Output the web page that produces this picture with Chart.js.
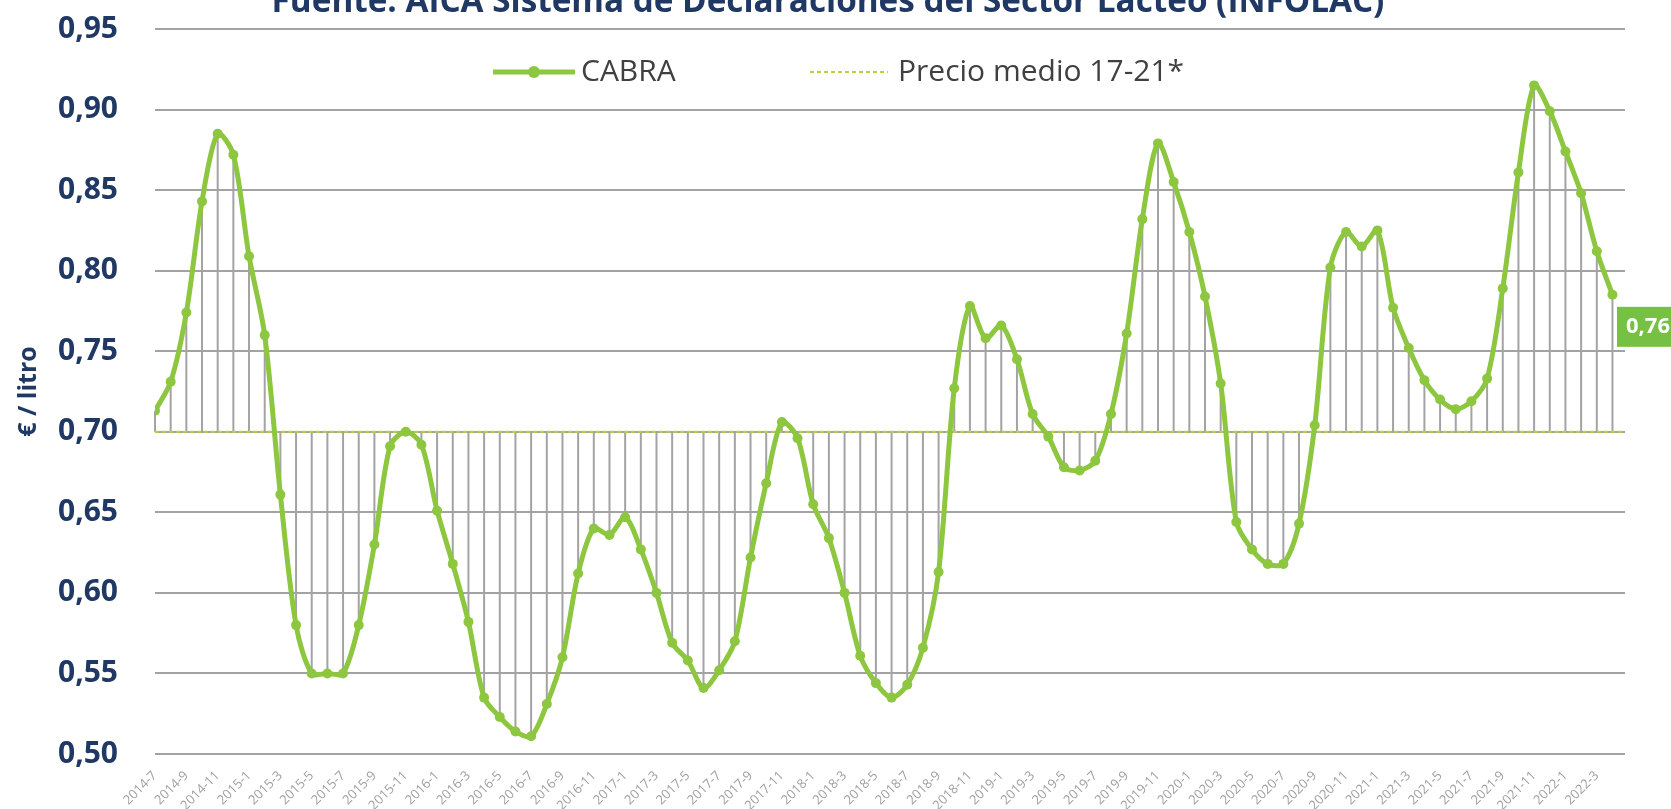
<!DOCTYPE html>
<html>
<head>
<meta charset="utf-8">
<script src="https://cdn.jsdelivr.net/npm/chart.js@4/dist/chart.umd.min.js"></script>
<style>
  body { margin: 0; background: #fff; }
  canvas { display: block; }
</style>
</head>
<body>
<canvas id="chart" width="1671" height="809"></canvas>
<script>
// precio leche de cabra, €/litro, mensual desde 2014-7
const months = [
    '2014-7', '2014-8', '2014-9', '2014-10', '2014-11', '2014-12',
    '2015-1', '2015-2', '2015-3', '2015-4', '2015-5', '2015-6', '2015-7', '2015-8', '2015-9', '2015-10', '2015-11', '2015-12',
    '2016-1', '2016-2', '2016-3', '2016-4', '2016-5', '2016-6', '2016-7', '2016-8', '2016-9', '2016-10', '2016-11', '2016-12',
    '2017-1', '2017-2', '2017-3', '2017-4', '2017-5', '2017-6', '2017-7', '2017-8', '2017-9', '2017-10', '2017-11', '2017-12',
    '2018-1', '2018-2', '2018-3', '2018-4', '2018-5', '2018-6', '2018-7', '2018-8', '2018-9', '2018-10', '2018-11', '2018-12',
    '2019-1', '2019-2', '2019-3', '2019-4', '2019-5', '2019-6', '2019-7', '2019-8', '2019-9', '2019-10', '2019-11', '2019-12',
    '2020-1', '2020-2', '2020-3', '2020-4', '2020-5', '2020-6', '2020-7', '2020-8', '2020-9', '2020-10', '2020-11', '2020-12',
    '2021-1', '2021-2', '2021-3', '2021-4', '2021-5', '2021-6', '2021-7', '2021-8', '2021-9', '2021-10', '2021-11', '2021-12',
    '2022-1', '2022-2', '2022-3', '2022-4'
]

const cabra = [
    0.713, 0.731, 0.774, 0.843, 0.885, 0.872,
    0.809, 0.760, 0.661, 0.580, 0.550, 0.550, 0.550, 0.580, 0.630, 0.691, 0.700, 0.692,
    0.651, 0.618, 0.582, 0.535, 0.523, 0.514, 0.511, 0.531, 0.560, 0.612, 0.640, 0.636,
    0.647, 0.627, 0.600, 0.569, 0.558, 0.541, 0.552, 0.570, 0.622, 0.668, 0.706, 0.696,
    0.655, 0.634, 0.600, 0.561, 0.544, 0.535, 0.543, 0.566, 0.613, 0.727, 0.778, 0.758,
    0.766, 0.745, 0.711, 0.697, 0.678, 0.676, 0.682, 0.711, 0.761, 0.832, 0.879, 0.855,
    0.824, 0.784, 0.730, 0.644, 0.627, 0.618, 0.618, 0.643, 0.704, 0.802, 0.824, 0.815,
    0.825, 0.777, 0.752, 0.732, 0.720, 0.714, 0.719, 0.733, 0.789, 0.861, 0.915, 0.899,
    0.874, 0.848, 0.812, 0.785
]

const precioMedio = 0.70
const lastLabel = '0,76'
const xMax = 93.8

const green = '#8dc63f'
const navy = '#1f3864'

// lineas verticales desde cada punto hasta el precio medio
const dropLines = {
    id: 'dropLines',
    beforeDatasetsDraw(chart) {
        const ctx = chart.ctx
        const y = chart.scales.y
        const meta = chart.getDatasetMeta(0)
        const base = y.getPixelForValue(precioMedio)
        ctx.save()
        ctx.strokeStyle = '#a3a3a3'
        ctx.lineWidth = 2
        meta.data.forEach(p => {
            ctx.beginPath()
            ctx.moveTo(p.x, p.y)
            ctx.lineTo(p.x, base)
            ctx.stroke()
        })
        ctx.restore()
    }
}

const extras = {
    id: 'extras',
    afterDraw(chart) {
        const ctx = chart.ctx
        ctx.save()

        // titulo (cortado arriba)
        const title = 'Fuente: AICA Sistema de Declaraciones del Sector Lácteo (INFOLAC)'
        ctx.font = 'bold 28px "Open Sans"'
        const size = 28 * 1113 / ctx.measureText(title).width
        ctx.font = 'bold ' + size + 'px "Open Sans"'
        ctx.fillStyle = navy
        ctx.textAlign = 'center'
        ctx.textBaseline = 'alphabetic'
        ctx.fillText(title, 828, 12)

        // leyenda
        ctx.textAlign = 'left'
        ctx.textBaseline = 'middle'
        ctx.font = '30px "Open Sans"'
        ctx.fillStyle = '#404040'
        ctx.strokeStyle = green
        ctx.lineWidth = 5
        ctx.beginPath()
        ctx.moveTo(493, 72)
        ctx.lineTo(575, 72)
        ctx.stroke()
        ctx.fillStyle = green
        ctx.beginPath()
        ctx.arc(534, 72, 6, 0, Math.PI * 2)
        ctx.fill()
        ctx.fillStyle = '#404040'
        ctx.fillText('CABRA', 581, 72)

        ctx.strokeStyle = '#bccf3c'
        ctx.lineWidth = 2
        ctx.setLineDash([4, 3])
        ctx.beginPath()
        ctx.moveTo(810, 72)
        ctx.lineTo(888, 72)
        ctx.stroke()
        ctx.setLineDash([])
        ctx.fillText('Precio medio 17-21*', 898, 72)

        // etiqueta del ultimo valor
        const meta = chart.getDatasetMeta(0)
        const last = meta.data[meta.data.length - 1]
        const bx = chart.chartArea.right - 8
        const by = last.y + 12
        ctx.fillStyle = '#76c043'
        ctx.fillRect(bx, by, chart.width - bx, 40)
        ctx.fillStyle = '#ffffff'
        ctx.font = 'bold 22px "Open Sans"'
        ctx.fillText(lastLabel, bx + 9, by + 20)

        ctx.restore()
    }
}

const ctx = document.getElementById('chart').getContext('2d')

const chart = new Chart(ctx, {
    type: 'line',
    data: {
        datasets: [
            {
                label: 'CABRA',
                data: cabra.map((v, i) => ({ x: i, y: v })),
                borderColor: green,
                backgroundColor: green,
                borderWidth: 5,
                pointRadius: 5,
                pointBorderWidth: 0,
                pointBackgroundColor: green,
                tension: 0.3,
                fill: false
            },
            {
                label: 'Precio medio 17-21*',
                data: [{ x: 0, y: precioMedio }, { x: xMax, y: precioMedio }],
                borderColor: '#bccf3c',
                borderWidth: 2,
                borderDash: [4, 3],
                pointRadius: 0,
                fill: false
            }
        ]
    },
    options: {
        responsive: false,
        animation: false,
        layout: {
            padding: { top: 29, right: 46, left: 0, bottom: 0 }
        },
        plugins: {
            legend: { display: false },
            tooltip: { enabled: false }
        },
        scales: {
            x: {
                type: 'linear',
                min: 0,
                max: xMax,
                grid: { display: false },
                border: { display: false },
                afterFit(scale) { scale.height = 55 },
                ticks: {
                    stepSize: 2,
                    includeBounds: false,
                    autoSkip: false,
                    maxRotation: 45,
                    minRotation: 45,
                    padding: 6,
                    color: '#a0a0a0',
                    font: { family: 'Open Sans', size: 13 },
                    callback: v => months[v]
                }
            },
            y: {
                min: 0.5,
                max: 0.95,
                afterFit(scale) {
                    scale.width = 155
                    scale.paddingTop = 0
                    scale.paddingBottom = 0
                },
                grid: { color: '#a3a3a3', lineWidth: 2, drawTicks: false },
                border: { display: false },
                title: {
                    display: true,
                    text: '€ / litro',
                    color: navy,
                    font: { family: 'Open Sans', size: 25, weight: 'bold' },
                    padding: { top: 14, bottom: 0 }
                },
                ticks: {
                    stepSize: 0.05,
                    padding: 37,
                    color: navy,
                    font: { family: 'Open Sans', size: 30, weight: 'bold' },
                    callback: v => v.toFixed(2).replace('.', ',')
                }
            }
        }
    },
    plugins: [dropLines, extras]
})
</script>
</body>
</html>
